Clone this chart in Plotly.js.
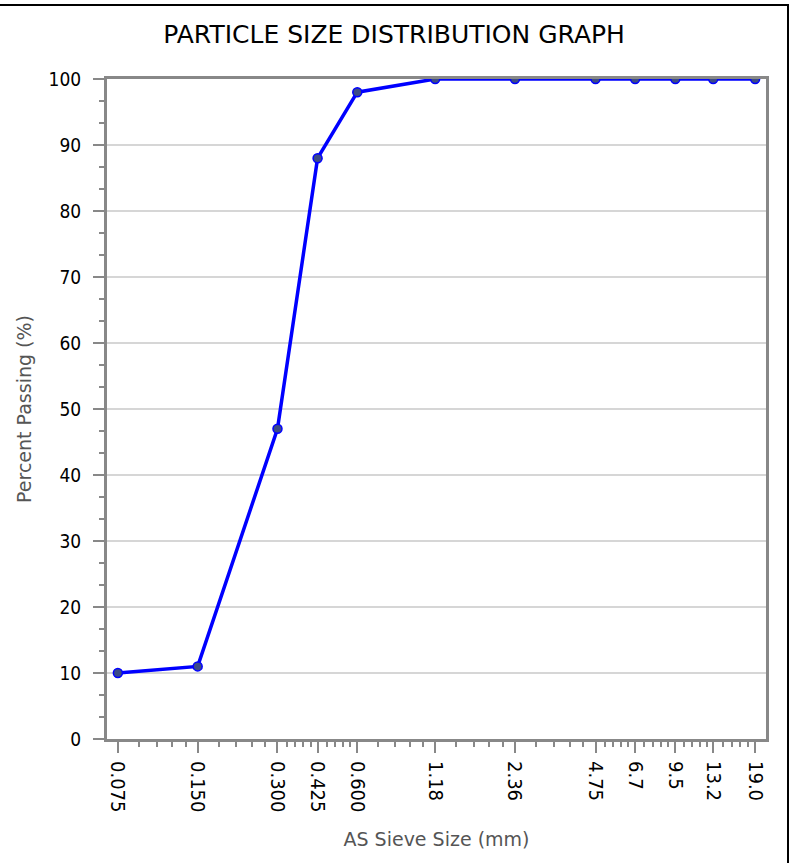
<!DOCTYPE html>
<html>
<head>
<meta charset="utf-8">
<script src="https://cdn.plot.ly/plotly-3.0.1.min.js"></script>
<style>
html,body{margin:0;padding:0;background:#fff;}
#wrap{position:relative;width:801px;height:863px;overflow:hidden;}
#chart{width:801px;height:863px;}
#frame{position:absolute;left:-10px;top:4px;width:797px;height:900px;border-top:2px solid #000;border-right:2px solid #000;pointer-events:none;}
</style>
</head>
<body>
<div id="wrap"><div id="chart"></div><div id="frame"></div></div>
<script>
var sieveSizes = [0.075, 0.150, 0.300, 0.425, 0.600, 1.18, 2.36, 4.75, 6.7, 9.5, 13.2, 19.0];
var sieveLabels = ["0.075", "0.150", "0.300", "0.425", "0.600", "1.18", "2.36", "4.75", "6.7", "9.5", "13.2", "19.0"];
var percentPassing = [10, 11, 47, 88, 98, 100, 100, 100, 100, 100, 100, 100];

// minor ticks: each interval between sieve sizes split into 5 equal parts
var minorVals = [];
for (var i = 0; i < sieveSizes.length - 1; i++) {
  var a = sieveSizes[i], b = sieveSizes[i + 1];
  for (var k = 1; k < 5; k++) minorVals.push(a + (b - a) * k / 5);
}
var pad = 0.041;
var xr = [Math.log10(sieveSizes[0]) - pad, Math.log10(sieveSizes[sieveSizes.length - 1]) + pad];
var FONT = "DejaVu Sans Condensed, DejaVu Sans, sans-serif";
var FONT2 = "DejaVu Sans, sans-serif";

var trace = {
  x: sieveSizes, y: percentPassing, type: 'scatter', mode: 'lines+markers',
  line: {color: '#0000ff', width: 3.5},
  marker: {size: 9, color: '#3b4a86', line: {color: '#0000ff', width: 1.5}},
  cliponaxis: true, hoverinfo: 'x+y'
};

var layout = {
  width: 801, height: 863,
  margin: {l: 107, r: 35, t: 79, b: 124},
  paper_bgcolor: '#fff', plot_bgcolor: '#fff',
  showlegend: false,
  font: {family: FONT, color: '#000'},
  title: {text: 'PARTICLE SIZE DISTRIBUTION GRAPH', x: 0.492, xanchor: 'center', y: 0.96, yanchor: 'middle',
          font: {family: FONT2, size: 25, color: '#000'}},
  xaxis: {
    type: 'log', range: xr, autorange: false,
    tickmode: 'array', tickvals: sieveSizes, ticktext: sieveLabels,
    tickangle: 90, tickfont: {family: FONT, size: 20, color: '#000'},
    ticks: 'outside', ticklen: 11, tickwidth: 2, tickcolor: '#888',
    ticklabelstandoff: 4,
    minor: {tickmode: 'array', tickvals: minorVals, ticks: 'outside', ticklen: 5, tickwidth: 2, tickcolor: '#888', showgrid: false},
    showline: true, linecolor: '#888', linewidth: 3, mirror: true,
    showgrid: false, zeroline: false, automargin: false,
    title: {text: 'AS Sieve Size (mm)', font: {family: FONT2, size: 19, color: '#555'}, standoff: 22}
  },
  yaxis: {
    range: [0, 100], autorange: false,
    tickmode: 'array', tickvals: [0,10,20,30,40,50,60,70,80,90,100],
    tickfont: {family: FONT, size: 19, color: '#000'},
    ticks: 'outside', ticklen: 11, tickwidth: 2, tickcolor: '#888',
    ticklabelstandoff: 8,
    minor: {dtick: 10/3, tick0: 0, ticks: 'outside', ticklen: 5, tickwidth: 2, tickcolor: '#888', showgrid: false},
    showline: true, linecolor: '#888', linewidth: 3, mirror: true,
    showgrid: true, gridcolor: '#d6d6d6', gridwidth: 2, zeroline: false, automargin: false,
    title: {text: 'Percent Passing (%)', font: {family: FONT2, size: 19, color: '#555'}, standoff: 12}
  }
};

Plotly.newPlot('chart', [trace], layout, {displayModeBar: false, staticPlot: false});
</script>
</body>
</html>
